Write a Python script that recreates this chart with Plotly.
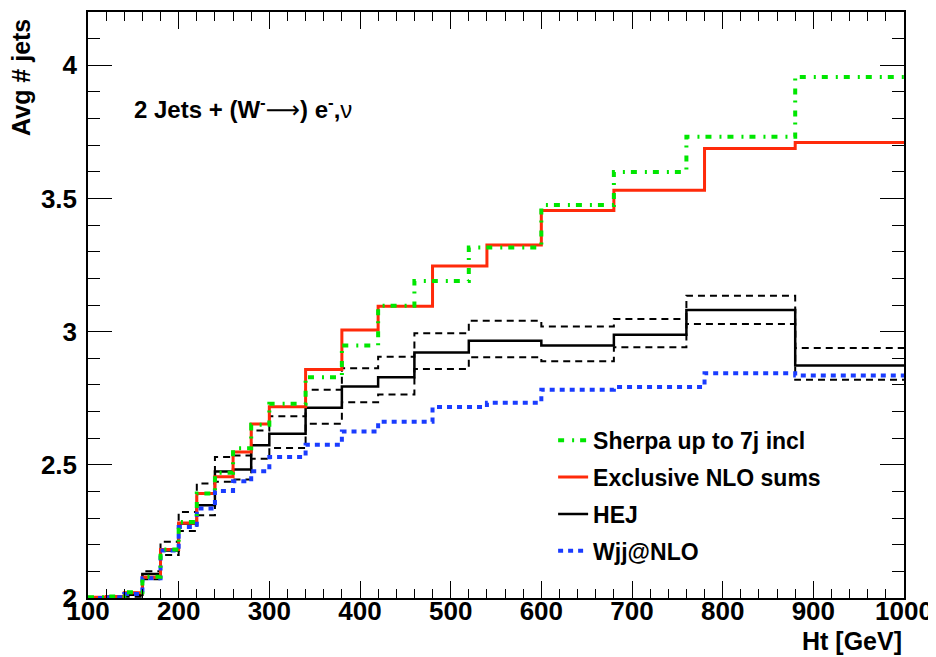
import plotly.graph_objects as go

# ---- data ----
RED_EDGES = [100, 120, 140, 160, 180, 200, 220, 240, 260, 280, 300, 340, 380, 420, 480, 540, 600, 680, 780, 880, 1000]
GREEN_EDGES = [100, 120, 140, 160, 180, 200, 220, 240, 260, 280, 300, 340, 380, 420, 460, 520, 600, 680, 760, 880, 1000]

sherpa = [2.003, 2.006, 2.022, 2.08, 2.182, 2.285, 2.392, 2.47, 2.562, 2.65, 2.729, 2.829, 2.948, 3.097, 3.19, 3.316, 3.475, 3.599, 3.732, 3.956]
excl_nlo = [2.003, 2.006, 2.02, 2.078, 2.182, 2.282, 2.392, 2.455, 2.548, 2.653, 2.718, 2.858, 3.006, 3.095, 3.246, 3.325, 3.455, 3.531, 3.688, 3.71]
hej = [2.0, 2.002, 2.012, 2.09, 2.178, 2.28, 2.348, 2.475, 2.482, 2.573, 2.617, 2.714, 2.794, 2.829, 2.922, 2.966, 2.948, 2.988, 3.081, 2.873]
hej_up = [2.0, 2.004, 2.02, 2.10, 2.211, 2.323, 2.43, 2.529, 2.535, 2.629, 2.682, 2.782, 2.863, 2.906, 2.994, 3.041, 3.019, 3.047, 3.135, 2.939]
hej_lo = [2.0, 2.0, 2.005, 2.07, 2.161, 2.252, 2.311, 2.436, 2.445, 2.523, 2.563, 2.654, 2.735, 2.764, 2.86, 2.904, 2.889, 2.941, 3.029, 2.819]
wjj_nlo = [2.0, 2.003, 2.015, 2.074, 2.178, 2.267, 2.336, 2.402, 2.438, 2.476, 2.529, 2.575, 2.625, 2.662, 2.717, 2.733, 2.782, 2.792, 2.844, 2.835]

X_TICKS = [100, 200, 300, 400, 500, 600, 700, 800, 900, 1000]
Y_TICKS = [2, 2.5, 3, 3.5, 4]
Y_TICK_LABELS = ["2", "2.5", "3", "3.5", "4"]

FONT = "Liberation Sans, Arial, Helvetica, sans-serif"


def step(edges, vals):
    return list(edges), list(vals) + [vals[-1]]


fig = go.Figure()

for vals in (hej_up, hej_lo):
    xs, ys = step(GREEN_EDGES, vals)
    fig.add_trace(go.Scatter(x=xs, y=ys, mode="lines", line_shape="hv",
                             line=dict(color="black", width=2, dash="7px,5px"),
                             showlegend=False, hoverinfo="skip"))

xs, ys = step(GREEN_EDGES, hej)
fig.add_trace(go.Scatter(x=xs, y=ys, mode="lines", line_shape="hv", name="HEJ",
                         line=dict(color="black", width=2.5), legendrank=3, legendgroup="c"))

xs, ys = step(RED_EDGES, excl_nlo)
fig.add_trace(go.Scatter(x=xs, y=ys, mode="lines", line_shape="hv", name="Exclusive NLO sums",
                         line=dict(color="#ff2a0a", width=3), legendrank=2, legendgroup="b"))

xs, ys = step(RED_EDGES, wjj_nlo)
fig.add_trace(go.Scatter(x=xs, y=ys, mode="lines", line_shape="hv", name="Wjj@NLO",
                         line=dict(color="#1a3cff", width=4, dash="5px,5px"), legendrank=4, legendgroup="d"))

xs, ys = step(GREEN_EDGES, sherpa)
fig.add_trace(go.Scatter(x=xs, y=ys, mode="lines", line_shape="hv", name="Sherpa up to 7j incl",
                         line=dict(color="#00e600", width=4, dash="6px,8px,2px,6px"), legendrank=1, legendgroup="a"))

axis_common = dict(showline=True, linewidth=1.5, linecolor="black", mirror="ticks",
                   ticks="inside", tickcolor="black", tickwidth=1.2, showgrid=False, zeroline=False,
                   automargin=False,
                   tickfont=dict(family=FONT, size=26, color="black", weight="bold"))

fig.update_xaxes(range=[100, 1000], tickvals=X_TICKS, ticklen=17, ticklabelstandoff=-11,
                 minor=dict(dtick=20, tick0=100, ticklen=9, ticks="inside", tickcolor="black", tickwidth=1.2),
                 **axis_common)
fig.update_yaxes(range=[2, 4.2], tickvals=Y_TICKS, ticktext=Y_TICK_LABELS, ticklen=24, ticklabelstandoff=4,
                 minor=dict(dtick=0.1, tick0=2, ticklen=12, ticks="inside", tickcolor="black", tickwidth=1.2),
                 **axis_common)

fig.add_annotation(text="Ht [GeV]", xref="paper", yref="paper", x=1.0, y=-0.046,
                   xanchor="right", yanchor="top", showarrow=False,
                   font=dict(family=FONT, size=25, color="black", weight="bold"))
fig.add_annotation(text="Avg # jets", xref="paper", yref="paper", x=-0.083, y=0.888,
                   xanchor="center", yanchor="middle", textangle=-90, showarrow=False,
                   font=dict(family=FONT, size=25, color="black", weight="bold"))
fig.add_annotation(text="2 Jets + (W<sup>-</sup><span style='font-family:DejaVu Sans;font-weight:normal'>\u27f6</span>) e<sup>-</sup>,<span style='font-weight:normal'>\u03bd</span>",
                   xref="paper", yref="paper", x=0.054, y=0.836,
                   xanchor="left", yanchor="middle", showarrow=False,
                   font=dict(family=FONT, size=24, color="black", weight="bold"))

fig.update_layout(
    width=928, height=649,
    margin=dict(l=80, r=32, t=4, b=59, autoexpand=False),
    paper_bgcolor="white", plot_bgcolor="white",
    showlegend=True,
    legend=dict(x=0.57, y=0.306, xanchor="left", yanchor="top", bgcolor="rgba(0,0,0,0)",
                font=dict(family=FONT, size=23, color="black", weight="bold"),
                itemwidth=30, tracegroupgap=4, traceorder="grouped"),
)

fig.write_html("out.html")
